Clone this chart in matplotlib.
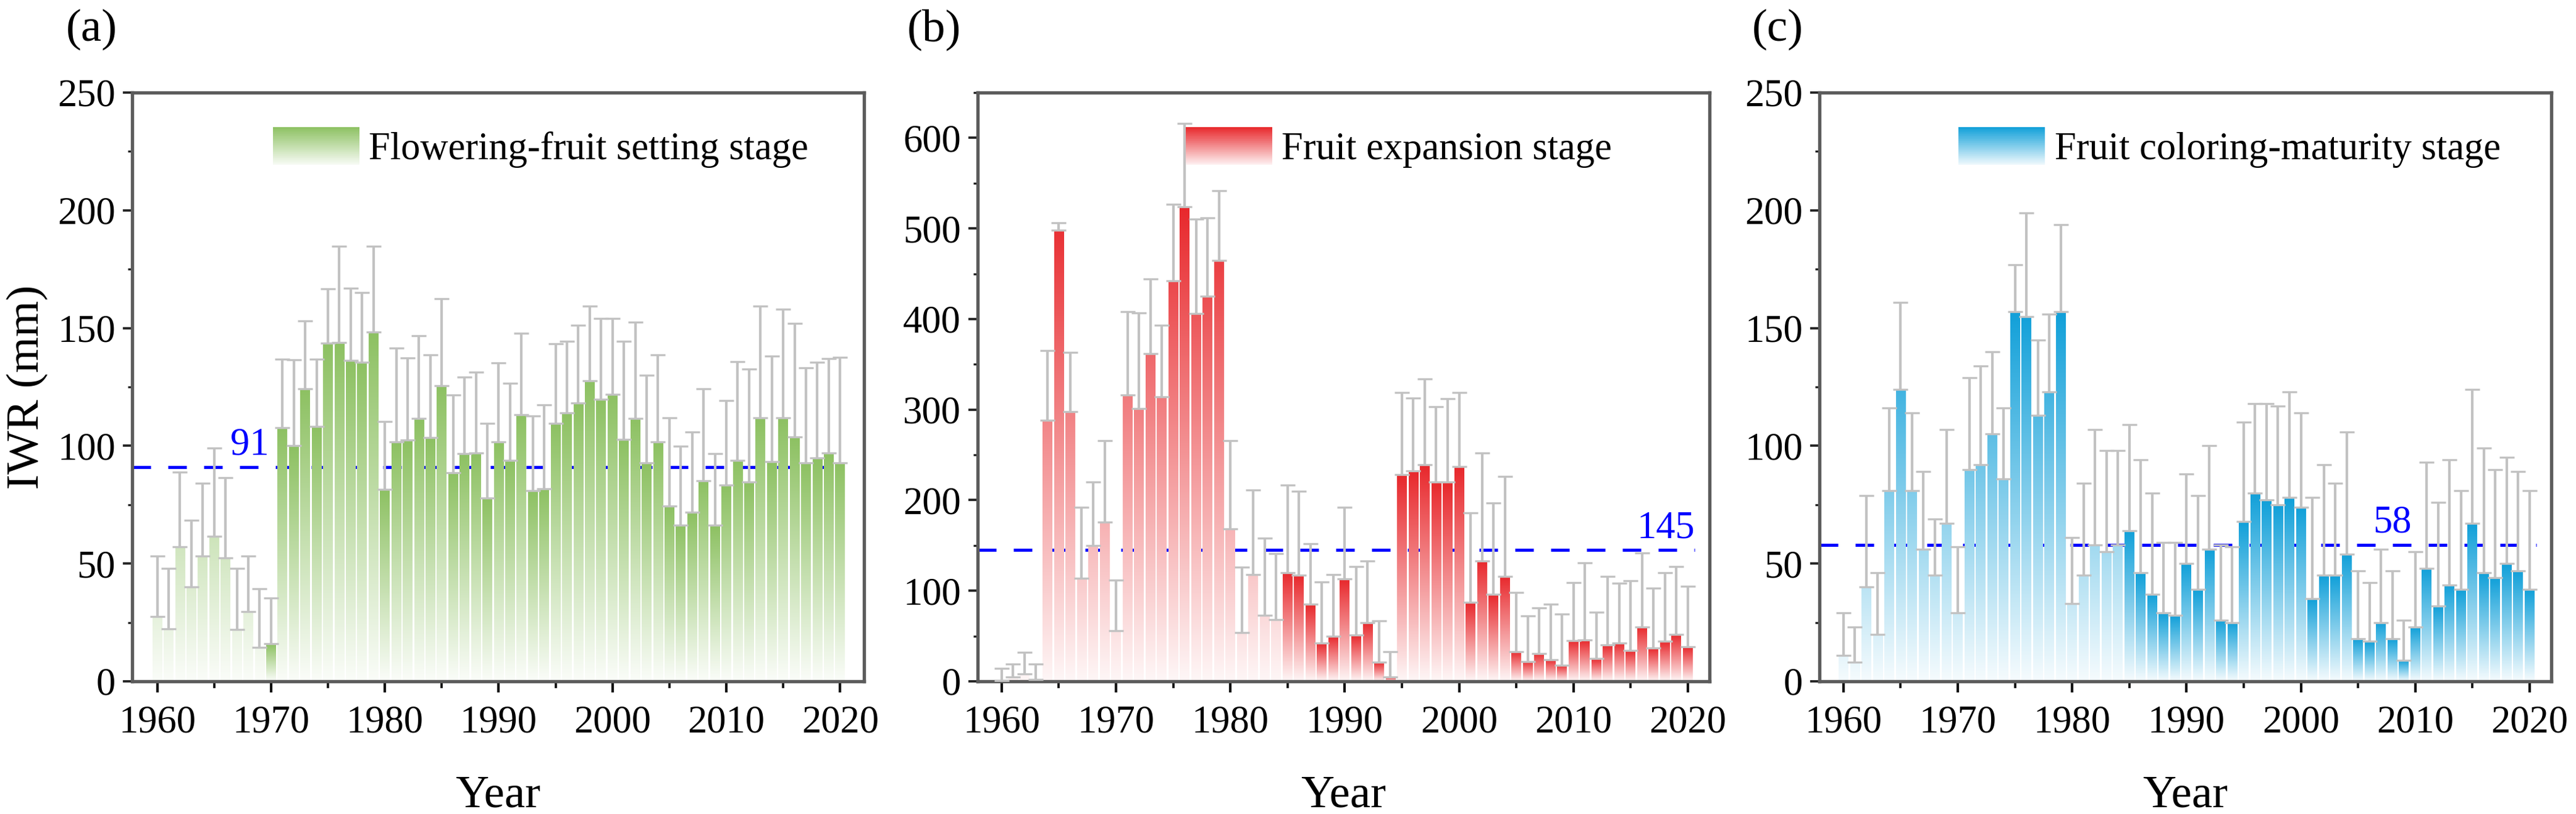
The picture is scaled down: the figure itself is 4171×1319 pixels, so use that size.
import numpy as np
import matplotlib
matplotlib.use('Agg')
import matplotlib.pyplot as plt
from matplotlib.colors import to_rgb
from matplotlib.legend_handler import HandlerBase
from matplotlib.patches import Rectangle, Patch
from matplotlib.ticker import MultipleLocator

plt.rcParams['font.family'] = ['Liberation Serif', 'DejaVu Serif']

years = list(range(1960, 2021))

# (a) Flowering-fruit setting stage
iwr_a = [27.4, 22.4, 57.0, 40.0, 53.2, 61.6, 52.5, 22.1, 29.6, 14.3,
         15.9, 107.6, 100.1, 124.1, 108.2, 143.7, 143.9, 136.2, 135.4, 148.3,
         81.5, 101.7, 102.4, 111.6, 103.5, 125.6, 88.7, 96.8, 97.0, 77.7,
         101.7, 93.7, 113.1, 81.1, 81.8, 109.5, 114.1, 118.2, 127.7, 119.8,
         121.9, 102.6, 111.7, 92.7, 101.6, 74.3, 66.3, 71.8, 85.2, 66.2,
         83.3, 93.9, 84.6, 111.8, 93.3, 111.8, 103.9, 92.7, 94.8, 97.0, 92.7]
sd_a = [25.8, 25.5, 31.9, 28.4, 31.0, 37.5, 33.9, 25.8, 23.6, 25.1,
        19.5, 29.2, 36.3, 28.9, 28.6, 23.0, 40.8, 30.8, 29.8, 36.4,
        28.8, 39.7, 35.0, 35.2, 35.2, 37.0, 32.9, 32.3, 34.2, 31.8,
        33.6, 32.8, 34.7, 31.5, 35.5, 33.8, 30.2, 32.9, 31.5, 34.2,
        32.1, 41.7, 40.7, 37.3, 37.1, 37.6, 33.5, 34.0, 38.9, 30.4,
        35.9, 41.9, 47.9, 47.4, 44.8, 46.2, 48.2, 40.4, 40.8, 40.1, 45.0]

# (b) Fruit expansion stage
iwr_b = [1, 5, 8, 2, 288, 498, 298, 114, 150, 176,
         56, 316, 301, 362, 314, 442, 524, 406, 425, 465,
         168, 54, 118, 73, 68, 120, 117, 85, 42, 50,
         113, 51, 65, 21, 4.5, 228, 232, 239, 220, 220,
         237, 87, 133, 96, 116, 33, 22, 31, 24, 18,
         45, 45.5, 25, 40, 42.5, 34, 60, 36.5, 44, 52, 38]
sd_b = [13, 14, 24, 17, 77, 8, 65, 78, 70, 90,
        56, 92, 106, 82, 79, 85, 92, 104, 87, 77,
        98, 72, 93, 85, 73, 97, 93, 67, 68, 68,
        79, 76, 68, 46, 28.5, 91, 81, 95, 83, 92,
        82, 99, 119, 101, 110, 65, 50, 50, 61, 56,
        64, 85.5, 51, 76, 65.5, 77, 82, 66.5, 76, 75, 67]

# (c) Fruit coloring-maturity stage
iwr_c = [11, 8, 40, 20, 81, 124, 81, 56, 45, 67,
         29, 90, 92, 105, 86, 157, 155, 113, 123, 157,
         33, 45, 58, 55, 58, 64, 46, 37, 29, 28,
         50, 39, 56, 26, 25, 68, 80, 77, 75, 78,
         74, 35, 45, 45, 54, 18, 17, 25, 18, 9,
         23, 48, 32, 41, 39, 67, 46, 44, 50, 47, 39]
sd_c = [18, 15, 39, 26, 35, 37, 33, 33, 24, 40,
        28, 39, 42, 35, 30, 20, 44, 32, 33, 37,
        28, 39, 49, 43, 40, 45, 48, 43, 30, 31,
        38, 40, 44, 32, 32, 42, 38, 41, 42, 45,
        40, 43, 47, 39, 52, 29, 25, 31, 29, 17,
        32, 45, 44, 53, 42, 57, 53, 46, 45, 42, 42]

panel_letters = ['(a)', '(b)', '(c)']
stage_names = ['Flowering-fruit setting stage', 'Fruit expansion stage',
               'Fruit coloring-maturity stage']
means = [91, 145, 58]
colors = ['#8dc162', '#e8282c', '#11a0d9']
split_years = [1970, 1985, 1985]
ylims = [250, 650, 250]
ymajor = [50, 100, 50]
yminor = [25, 50, 25]

T0 = 0.04


def shade(color, t):
    c = np.array(to_rgb(color))
    t = np.clip(np.asarray(t, dtype=float), 0, 1)[..., None]
    return 1 - t * (1 - c)


class GradientHandler(HandlerBase):
    def __init__(self, color):
        super().__init__()
        self.color = color

    def create_artists(self, legend, orig_handle, xdescent, ydescent,
                       width, height, fontsize, trans):
        n = 40
        arts = []
        for i in range(n):
            t = 0.06 + 0.94 * (i + 0.5) / n
            r = Rectangle((-xdescent, -ydescent + height * i / n), width,
                          height / n * 1.05, facecolor=shade(self.color, t),
                          edgecolor='none', transform=trans)
            arts.append(r)
        return arts


fig = plt.figure(figsize=(4171 / 300, 1319 / 300), dpi=300)

lefts = [214 / 4171, 1583 / 4171, 2946 / 4171]
width = 1185 / 4171
bottom = 1 - 1104 / 1319
height = (1104 - 150) / 1319
xlims = [(1957.8, 2022.1), (1957.9, 2021.9), (1957.9, 2021.9)]
legend_x = [0.192, 0.284, 0.19]
mean_label_x = [1969.8, 2020.6, 2009.7]
letter_x = [148 / 4171, 1512 / 4171, 2878 / 4171]

series = [(iwr_a, sd_a), (iwr_b, sd_b), (iwr_c, sd_c)]
spine_col = '#5c5c5c'

for k in range(3):
    ax = fig.add_axes([lefts[k], bottom, width, height])
    vals, sds = series[k]
    col = colors[k]
    G = max(vals)
    bars = ax.bar(years, vals, width=0.85, color='none', edgecolor='none',
                  zorder=2)
    for yr, rect in zip(years, bars):
        x0 = rect.get_x()
        w = rect.get_width()
        h = rect.get_height()
        if yr < split_years[k]:
            t = T0 + (1 - T0) * np.linspace(0, h / G, 128)
        else:
            t = np.linspace(T0, 1, 128)
        img = shade(col, t)[:, None, :]
        ax.imshow(img, extent=(x0, x0 + w, 0, h), origin='lower',
                  aspect='auto', interpolation='bilinear', zorder=2)
    ax.errorbar(years, vals, yerr=[np.zeros(len(vals)), sds], fmt='none',
                ecolor='#c2c2c2', elinewidth=1.0, capsize=2.8, capthick=0.8,
                zorder=3)
    ax.hlines(means[k], xlims[k][0], 2020.6, colors='blue', linewidth=1.2,
              linestyles=(0, (6.0, 5.6)), zorder=1.5)
    ax.annotate(str(means[k]), xy=(mean_label_x[k], means[k]),
                xytext=(0, 4.8), textcoords='offset points', ha='right',
                va='baseline', color='blue', fontsize=15, zorder=5)

    ax.set_xlim(*xlims[k])
    ax.set_ylim(0, ylims[k])
    ax.set_aspect('auto')
    ax.set_xticks(range(1960, 2021, 10))
    ax.xaxis.set_minor_locator(MultipleLocator(5))
    ax.yaxis.set_major_locator(MultipleLocator(ymajor[k]))
    ax.yaxis.set_minor_locator(MultipleLocator(yminor[k]))
    ax.tick_params(axis='x', which='major', direction='out', length=4.3,
                   width=1.0, labelsize=15, pad=5.0, color='#111111')
    ax.tick_params(axis='x', which='minor', direction='out', length=2.6,
                   width=0.9, color='#111111')
    ax.tick_params(axis='y', which='major', direction='out', length=3.5,
                   width=0.9, labelsize=15, pad=3.0, color='#222222')
    ax.tick_params(axis='y', which='minor', direction='out', length=1.8,
                   width=0.8, color='#222222')
    for s in ax.spines.values():
        s.set_color(spine_col)
        s.set_linewidth(1.3)

    ax.set_xlabel('Year', fontsize=18)
    ax.xaxis.set_label_coords(0.5, (1104 - 1308) / 954)
    ax.xaxis.label.set_verticalalignment('baseline')
    if k == 0:
        ax.set_ylabel('IWR (mm)', fontsize=18)
        ax.yaxis.set_label_coords((62 - 214) / 1185, 0.5)
        ax.yaxis.label.set_verticalalignment('baseline')

    leg = ax.legend([Patch(facecolor=col)], [stage_names[k]],
                    handler_map={Patch: GradientHandler(col)},
                    loc='upper left', bbox_to_anchor=(legend_x[k], 0.941),
                    frameon=False, fontsize=15, borderpad=0, borderaxespad=0,
                    handlelength=2.24, handleheight=1.12, handletextpad=0.25)
    leg.set_zorder(6)

    fig.text(letter_x[k], 1 - 48 / 1319, panel_letters[k], fontsize=18,
             ha='center', va='center')

fig.savefig('out.png', dpi=300)
